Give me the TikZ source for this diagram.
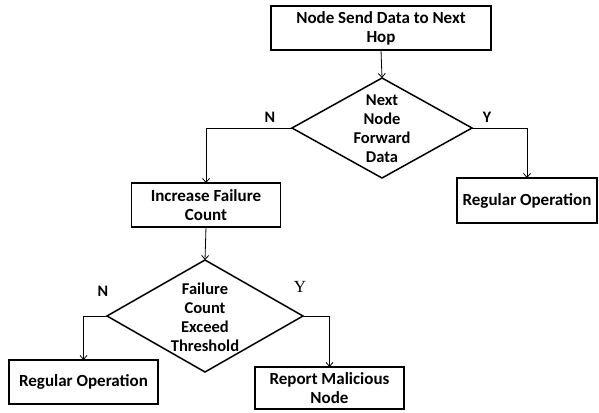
\documentclass[tikz,border=0pt]{standalone}
\usepackage{fontspec}
\setmainfont{Carlito}
\newfontfamily\serifY{Liberation Serif}
\usetikzlibrary{shapes.geometric,arrows.meta}
\tikzset{
  box/.style={draw, line width=1.4pt, rectangle, inner sep=0pt, outer sep=0pt, align=center,
    font=\fontsize{17}{19}\selectfont\bfseries},
  dia/.style={draw, line width=1.5pt, diamond, inner sep=0pt, outer sep=0pt},
  diatext/.style={align=center, inner sep=0pt, font=\fontsize{16.5}{19}\selectfont\bfseries},
  conn/.style={line width=0.8pt, -{Straight Barb[length=4pt,width=7pt]}},
  lbl/.style={inner sep=0pt, font=\fontsize{16}{18}\selectfont\bfseries}
}
\begin{document}
\begin{tikzpicture}[x=1pt,y=-1pt]
\useasboundingbox (0,0) rectangle (599,412);
\node[box, minimum width=220pt, minimum height=44pt] (top) at (381,28) {Node Send Data to Next\\Hop};
\node[dia, minimum width=180pt, minimum height=100pt] (d1) at (382,128) {};
\node[diatext] (d1t) at (382,129) {Next\\Node\\Forward\\Data};
\node[box, minimum width=149pt, minimum height=44pt] (inc) at (206,205) {Increase Failure\\Count};
\node[box, minimum width=140pt, minimum height=45pt] (reg1) at (527,200.5) {Regular Operation};
\node[dia, minimum width=196pt, minimum height=112pt] (d2) at (205,316) {};
\node[diatext] (d2t) at (205,317) {Failure\\Count\\Exceed\\Threshold};
\node[box, minimum width=149pt, minimum height=44pt] (reg2) at (83.5,382) {Regular Operation};
\node[box, minimum width=149pt, minimum height=42pt] (rep) at (329.5,388) {Report Malicious\\Node};

\draw[conn] (top.south) -- (d1.north);
\draw[conn] (d1.west) -| (inc.north);
\draw[conn] (d1.east) -| (reg1.north);
\draw[conn] (inc.south) -- (d2.north);
\draw[conn] (d2.west) -| (reg2.north);
\draw[conn] (d2.east) -| (rep.north);

\node[lbl] (n1) at (270,117) {N};
\node[lbl] (y1) at (487,117) {Y};
\node[lbl] (n2) at (103,291) {N};
\node[inner sep=0pt, font=\fontsize{17}{18}\selectfont\serifY] (y2) at (300,287) {Y};
\end{tikzpicture}
\end{document}
